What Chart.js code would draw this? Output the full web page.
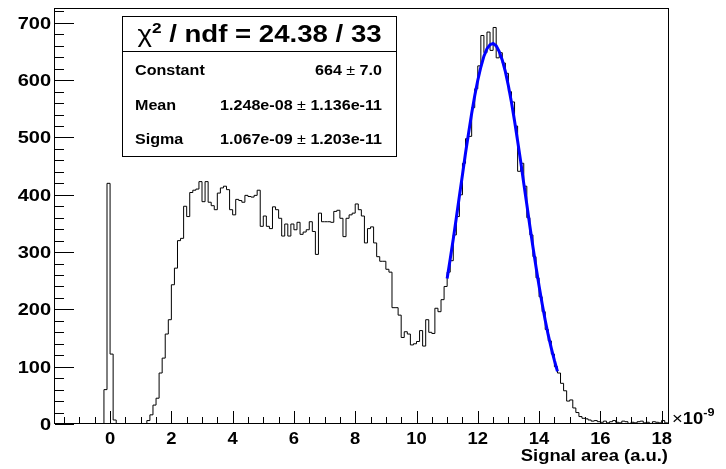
<!DOCTYPE html>
<html lang="en">
  <head>
    <meta charset="UTF-8" />
    <title>Signal area fit</title>
    <style>
      html, body { margin: 0; padding: 0; background: #ffffff; }
      .chart-container { position: relative; width: 726px; height: 469px; }
    </style>
  </head>
  <body>
    <div class="chart-container">
      <canvas id="myChart"></canvas>
    </div>

    <script src="https://cdn.jsdelivr.net/npm/chart.js"></script>

    <script>
      // histogram binning, x in units of 1e-9
      const binStart = -1.8;
      const binWidth = 0.1;
      const counts = [
        0, 0, 0, 0, 0, 0, 0, 0, 0, 0,
        0, 0, 0, 0, 0, 0, 60, 420, 122, 7,
        0, 0, 0, 0, 0, 0, 0, 0, 0, 0,
        6, 16, 33, 45, 89, 115, 157, 182, 243, 272,
        320, 324, 380, 362, 404, 408, 410, 423, 388, 423,
        387, 381, 374, 403, 412, 415, 409, 374, 365, 392,
        390, 387, 399, 397, 396, 399, 408, 345, 363, 345,
        341, 379, 374, 359, 328, 349, 328, 349, 339, 352,
        331, 335, 339, 353, 336, 296, 368, 353, 353, 353,
        352, 371, 373, 359, 327, 359, 365, 368, 384, 374,
        363, 316, 341, 344, 316, 292, 284, 284, 270, 265,
        203, 203, 190, 151, 161, 157, 138, 140, 144, 163,
        136, 182, 160, 158, 202, 196, 217, 240, 265, 285,
        330, 362, 400, 455, 498, 502, 552, 585, 625, 678,
        648, 684, 652, 692, 639, 648, 630, 612, 580, 562,
        520, 441, 455, 415, 360, 330, 292, 255, 222, 196,
        165, 145, 122, 100, 89, 71, 58, 40, 42, 28,
        20, 13, 10, 9, 7, 5, 6, 4, 3, 5,
        2, 4, 6, 3, 2, 5, 4, 1, 3, 2,
        4, 5, 2, 3, 1, 4, 3, 2, 6, 2,
        1
      ];

      // gaussian fit curve
      const fitX = [11.0, 11.1, 11.2, 11.3, 11.4, 11.5, 11.6, 11.7, 11.8, 11.9,
                    12.0, 12.1, 12.2, 12.3, 12.4, 12.5, 12.6, 12.7, 12.8, 12.9,
                    13.0, 13.1, 13.2, 13.3, 13.4, 13.5, 13.6, 13.7, 13.8, 13.9,
                    14.0, 14.1, 14.2, 14.3, 14.4, 14.5, 14.6];
      const fitY = [254, 288, 323, 360, 398, 435, 473, 508, 542, 573,
                    600, 623, 642, 655, 662, 664, 660, 650, 635, 615,
                    590, 561, 529, 494, 458, 420, 383, 345, 309, 274,
                    241, 210, 181, 155, 132, 111, 92];

      const xTickLabels = [0, 2, 4, 6, 8, 10, 12, 14, 16, 18];
      const yTickLabels = [0, 100, 200, 300, 400, 500, 600, 700];
      const xMinorStep = 0.5;
      const yMinorStep = 20;

      const chiText = " / ndf = 24.38 / 33";
      const paramNames = ["Constant", "Mean", "Sigma"];
      const paramValues = ["664", "1.248e-08", "1.067e-09"];
      const paramErrors = ["7.0", "1.136e-11", "1.203e-11"];
      const xTitle = "Signal area (a.u.)";

      const FONT = '"Liberation Sans", Arial, sans-serif';

      // draw several text pieces in a row, each with its own font;
      // sx widens the glyphs, the reference text is a bit stretched
      function drawRuns(ctx, runs, x, y, align, sx) {
        sx = sx || 1.15;
        let total = 0;
        runs.forEach(r => {
          ctx.font = r.font;
          r.w = ctx.measureText(r.text).width * sx;
          total += r.w;
        });
        let cx = x;
        if (align === "right") cx = x - total;
        if (align === "center") cx = x - total / 2;
        runs.forEach(r => {
          ctx.save();
          ctx.font = r.font;
          ctx.textAlign = "left";
          ctx.textBaseline = "alphabetic";
          ctx.translate(cx, y + (r.dy || 0));
          ctx.scale(sx, 1);
          ctx.fillText(r.text, 0, 0);
          ctx.restore();
          cx += r.w;
        });
      }

      const rootFrame = {
        id: "rootFrame",
        afterDraw(chart) {
          const ctx = chart.ctx;
          const xs = chart.scales.x;
          const ys = chart.scales.y;
          const { left, right, top, bottom } = chart.chartArea;
          ctx.save();
          ctx.strokeStyle = "#000";
          ctx.fillStyle = "#000";
          ctx.lineWidth = 1;

          // frame
          ctx.strokeRect(left + 0.5, top + 0.5, right - left - 1, bottom - top - 1);

          // x ticks (inside)
          ctx.beginPath();
          for (let v = Math.ceil(xs.min / xMinorStep) * xMinorStep; v <= xs.max; v += xMinorStep) {
            const px = Math.round(xs.getPixelForValue(v)) + 0.5;
            const major = xTickLabels.some(t => Math.abs(t - v) < 1e-6);
            ctx.moveTo(px, bottom - 1);
            ctx.lineTo(px, bottom - 1 - (major ? 12 : 6));
          }
          // y ticks (inside)
          for (let v = 0; v <= ys.max; v += yMinorStep) {
            const py = Math.round(ys.getPixelForValue(v)) + 0.5;
            const major = yTickLabels.includes(v);
            ctx.moveTo(left + 1, py);
            ctx.lineTo(left + 1 + (major ? 19 : 9), py);
          }
          ctx.stroke();

          // tick labels
          xTickLabels.forEach(v => {
            drawRuns(ctx, [{ text: String(v), font: "bold 16px " + FONT }],
              xs.getPixelForValue(v), bottom + 19.5, "center");
          });
          yTickLabels.forEach(v => {
            drawRuns(ctx, [{ text: String(v), font: "bold 16px " + FONT }],
              left - 3, ys.getPixelForValue(v) + 6, "right", 1.25);
          });

          // exponent and axis title
          drawRuns(ctx, [
            { text: "\u00d7", font: "16px " + FONT },
            { text: "10", font: "bold 16px " + FONT },
            { text: "-9", font: "bold 11px " + FONT, dy: -8 }
          ], right + 3, bottom, "left");
          drawRuns(ctx, [{ text: xTitle, font: "bold 16px " + FONT }], right - 1, bottom + 37, "right");

          // fit statistics box
          const bx = 122.5, by = 16.5, bw = 274, bh = 140;
          ctx.fillStyle = "#fff";
          ctx.fillRect(bx, by, bw, bh);
          ctx.strokeRect(bx, by, bw, bh);
          ctx.beginPath();
          ctx.moveTo(bx, 51.5);
          ctx.lineTo(bx + bw, 51.5);
          ctx.stroke();
          ctx.fillStyle = "#000";
          drawRuns(ctx, [
            { text: "\u03c7", font: "24px " + FONT },
            { text: "2", font: "bold 15px " + FONT, dy: -9 },
            { text: chiText, font: "bold 24px " + FONT }
          ], bx + bw / 2, 42, "center");
          paramNames.forEach((name, i) => {
            const yb = 75 + i * 34.5;
            drawRuns(ctx, [{ text: name, font: "bold 14px " + FONT }], 135, yb, "left");
            drawRuns(ctx, [
              { text: paramValues[i], font: "bold 14px " + FONT },
              { text: " \u00b1 ", font: "14px " + FONT },
              { text: paramErrors[i], font: "bold 14px " + FONT }
            ], 382, yb, "right");
          });
          ctx.restore();
        }
      };

      const histPoints = counts.map((c, i) => ({ x: +(binStart + i * binWidth).toFixed(2), y: c }));
      histPoints.push({ x: +(binStart + counts.length * binWidth).toFixed(2), y: 0 });
      const fitPoints = fitX.map((x, i) => ({ x: x, y: fitY[i] }));

      const ctx = document.getElementById("myChart").getContext("2d");
      const myChart = new Chart(ctx, {
        type: "line",
        data: {
          datasets: [
            {
              label: "fit",
              data: fitPoints,
              borderColor: "#0000ff",
              borderWidth: 3,
              pointRadius: 0,
              tension: 0,
              order: 0
            },
            {
              label: "histogram",
              data: histPoints,
              borderColor: "#000000",
              borderWidth: 1,
              pointRadius: 0,
              stepped: "before",
              order: 1
            }
          ]
        },
        options: {
          responsive: true,
          maintainAspectRatio: false,
          animation: false,
          layout: { padding: { left: 54, right: 57, top: 8, bottom: 45 } },
          plugins: { legend: { display: false }, tooltip: { enabled: false } },
          scales: {
            x: { type: "linear", min: -1.83, max: 18.24, display: false },
            y: { type: "linear", min: 0, max: 726, display: false }
          }
        },
        plugins: [rootFrame]
      });
    </script>
  </body>
</html>
